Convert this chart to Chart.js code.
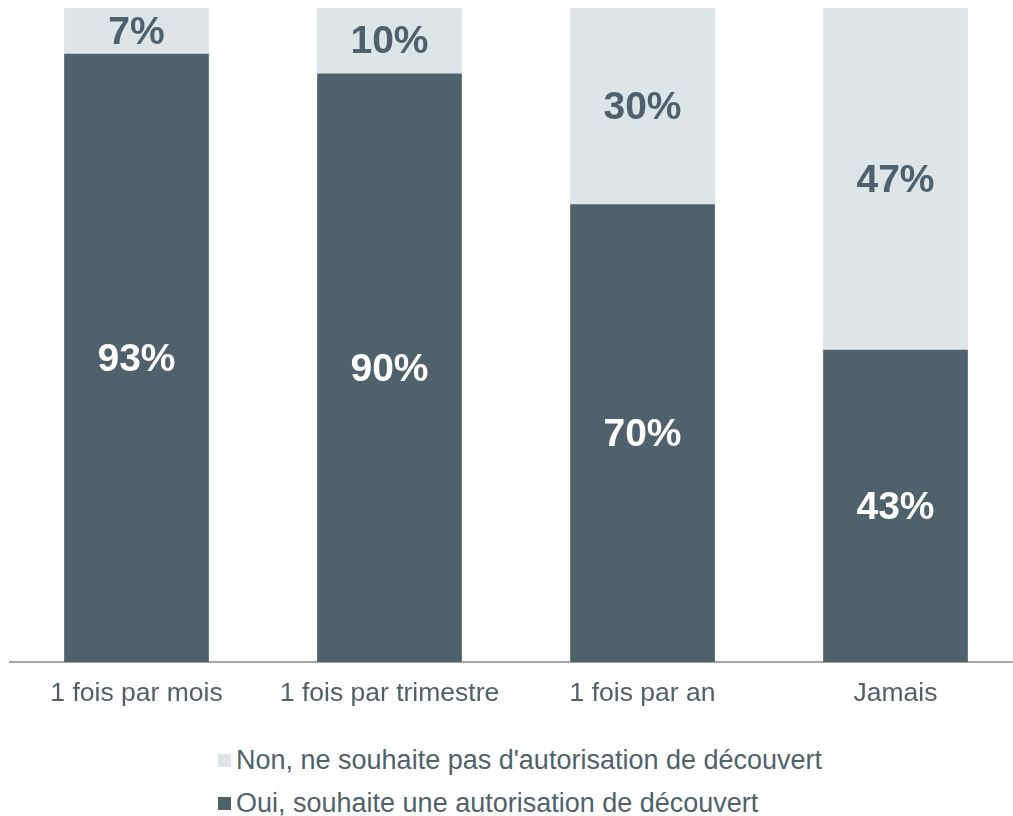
<!DOCTYPE html>
<html>
<head>
<meta charset="utf-8">
<script src="https://cdn.jsdelivr.net/npm/chart.js@4.4.1/dist/chart.umd.min.js"></script>
<style>
  html, body { margin: 0; padding: 0; background: #fff; overflow: hidden; }
  #wrap { position: relative; width: 1022px; height: 718px; }
  #legend { position: absolute; left: 218px; top: 739px; font-family: "Liberation Sans", Arial, sans-serif; font-size: 27px; color: #4f626b; }
  #legend div { display: flex; align-items: center; height: 43px; }
  #legend span.box { display: inline-block; width: 13px; height: 13px; margin-right: 5px; }
</style>
</head>
<body>
<div id="wrap"><canvas id="bar-chart"></canvas></div>
<div id="legend"></div>
<script>
const categories = ['1 fois par mois', '1 fois par trimestre', '1 fois par an', 'Jamais'];
const ouiValues = [93, 90, 70, 43];
const nonValues = [7, 10, 30, 47];
const ouiLabel = 'Oui, souhaite une autorisation de découvert';
const nonLabel = "Non, ne souhaite pas d'autorisation de découvert";

const darkColor = '#4f626b';
const lightColor = '#dce5e7';

// bars are drawn as 100% stacks, labels keep the raw values
const totals = categories.map((c, i) => ouiValues[i] + nonValues[i]);
const ouiShare = ouiValues.map((v, i) => v / totals[i] * 100);
const nonShare = nonValues.map((v, i) => v / totals[i] * 100);

// draws the percentage in the middle of every segment
const barLabels = {
    id: 'barLabels',
    afterDatasetsDraw(chart) {
        const ctx = chart.ctx;
        ctx.save();
        ctx.font = 'bold 39px "Liberation Sans", Arial, sans-serif';
        ctx.textAlign = 'center';
        ctx.textBaseline = 'middle';
        chart.data.datasets.forEach((ds, i) => {
            chart.getDatasetMeta(i).data.forEach((bar, j) => {
                const p = bar.getProps(['x', 'y', 'base'], true);
                ctx.fillStyle = ds.labelColor;
                ctx.fillText(ds.rawValues[j] + '%', p.x, (p.y + p.base) / 2 + 2);
            });
        });
        ctx.restore();
    }
};

const chart = new Chart(document.getElementById('bar-chart'), {
    type: 'bar',
    data: {
        labels: categories,
        datasets: [
            { label: ouiLabel, data: ouiShare, rawValues: ouiValues, backgroundColor: darkColor, labelColor: '#ffffff' },
            { label: nonLabel, data: nonShare, rawValues: nonValues, backgroundColor: lightColor, labelColor: darkColor }
        ]
    },
    options: {
        responsive: true,
        maintainAspectRatio: false,
        animation: false,
        layout: { padding: { top: 8, left: 10 } },
        datasets: { bar: { barPercentage: 0.572, categoryPercentage: 1 } },
        scales: {
            x: {
                stacked: true,
                grid: { display: false },
                border: { display: true, color: '#a6a6a6', width: 2 },
                ticks: { color: darkColor, padding: 8, font: { size: 26.5, family: '"Liberation Sans", Arial, sans-serif' } }
            },
            y: {
                stacked: true,
                display: false,
                min: 0,
                max: 100
            }
        },
        plugins: {
            legend: { display: false },
            tooltip: { enabled: false }
        }
    },
    plugins: [barLabels]
});

// legend below, light series first
const legend = document.getElementById('legend');
[1, 0].forEach(i => {
    const ds = chart.data.datasets[i];
    const row = document.createElement('div');
    row.innerHTML = '<span class="box" style="background:' + ds.backgroundColor + '"></span>' + ds.label;
    legend.appendChild(row);
});
</script>
</body>
</html>
